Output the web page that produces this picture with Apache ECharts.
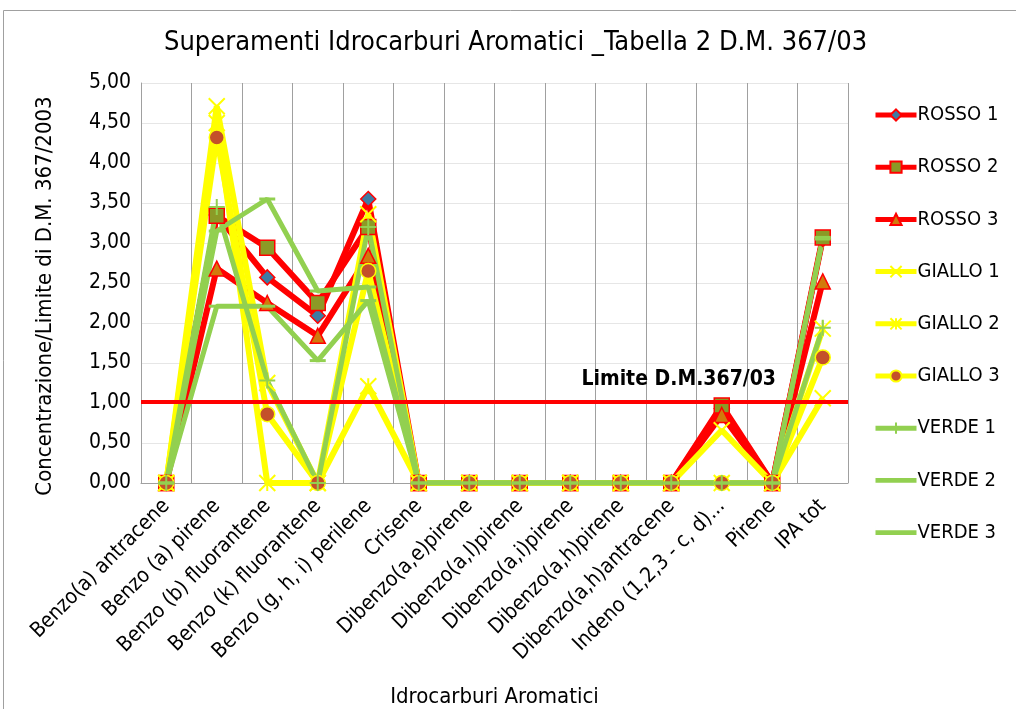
<!DOCTYPE html>
<html>
<head>
<meta charset="utf-8">
<script src="https://cdn.jsdelivr.net/npm/echarts@6/dist/echarts.min.js"></script>
<style>
  html, body { margin: 0; padding: 0; background: #fff; overflow: hidden; }
  #chart { width: 1016px; height: 709px; }
</style>
</head>
<body>
<div id="chart"></div>
<script>
// categorie (asse x)
var categorie = ['Benzo(a) antracene', 'Benzo (a) pirene', 'Benzo (b) fluorantene', 'Benzo (k) fluorantene',
  'Benzo (g, h, i) perilene', 'Crisene', 'Dibenzo(a,e)pirene', 'Dibenzo(a,l)pirene', 'Dibenzo(a,i)pirene',
  'Dibenzo(a,h)pirene', 'Dibenzo(a,h)antracene', 'Indeno (1,2,3 - c, d)...', 'Pirene', 'IPA tot'];

// valori
var rosso1  = [0, 3.35, 2.57, 2.09, 3.55, 0, 0, 0, 0, 0, 0, 0.93, 0, 3.05];
var rosso2  = [0, 3.34, 2.94, 2.25, 3.20, 0, 0, 0, 0, 0, 0, 0.97, 0, 3.07];
var rosso3  = [0, 2.68, 2.25, 1.84, 2.84, 0, 0, 0, 0, 0, 0, 0.85, 0, 2.52];
var giallo1 = [0, 4.71, 1.25, 0, 3.36, 0, 0, 0, 0, 0, 0, 0.66, 0, 1.06];
var giallo2 = [0, 4.50, 0, 0, 1.21, 0, 0, 0, 0, 0, 0, 0, 0, 1.93];
var giallo3 = [0, 4.32, 0.86, 0, 2.65, 0, 0, 0, 0, 0, 0, 0, 0, 1.57];
var verde1  = [0, 3.45, 1.28, 0, 3.20, 0, 0, 0, 0, 0, 0, 0, 0, 1.94];
var verde2  = [0, 3.15, 3.55, 2.40, 2.45, 0, 0, 0, 0, 0, 0, 0, 0, 3.05];
var verde3  = [0, 2.21, 2.21, 1.53, 2.28, 0, 0, 0, 0, 0, 0, 0, 0, 3.07];

var limite = 1.02;

var ROSSO = '#ff0000', GIALLO = '#ffff00', VERDE = '#92d050';
var FONT = 'DejaVu Sans Condensed';

var simboloX = 'path://M0,0L10,10M10,0L0,10';
var simboloAst = 'path://M0,0L10,10M10,0L0,10M5,0L5,10';
var simboloPiu = 'path://M0,5L10,5M5,0L5,10';
var simboloTrattino = 'path://M0,0h10v2h-10z';
// icona legenda per VERDE 2/3: solo la linea (rettangolo quasi invisibile per tenere l'altezza)
var iconaLinea = 'path://M0,4.5h44v5h-44z M0,0h0.01v14h-0.01z';

function serie(nome, dati, colore, larghezza, simbolo, size, item) {
  return {
    name: nome,
    type: 'line',
    data: dati,
    showAllSymbol: true,
    symbol: simbolo,
    symbolSize: size,
    lineStyle: { color: colore, width: larghezza },
    itemStyle: item,
    emphasis: { disabled: true }
  };
}

var chart = echarts.init(document.getElementById('chart'));
var option = {
  backgroundColor: '#fff',
  animation: false,
  textStyle: { fontFamily: FONT },
  title: {
    text: 'Superamenti Idrocarburi Aromatici _Tabella 2 D.M. 367/03',
    left: 159,
    top: 24,
    textStyle: { fontFamily: FONT, fontSize: 27, fontWeight: 'normal', color: '#000' }
  },
  graphic: [{
    type: 'rect',
    shape: { x: 3.5, y: 10.5, width: 1100, height: 800 },
    style: { fill: 'none', stroke: '#a0a0a0', lineWidth: 1 },
    silent: true
  }],
  legend: {
    orient: 'vertical',
    left: 868,
    top: 100,
    itemWidth: 41,
    itemHeight: 14,
    itemGap: 32.2,
    lineStyle: { width: 5 },
    data: ['ROSSO 1', 'ROSSO 2', 'ROSSO 3', 'GIALLO 1', 'GIALLO 2', 'GIALLO 3', 'VERDE 1',
      { name: 'VERDE 2', icon: iconaLinea }, { name: 'VERDE 3', icon: iconaLinea }],
    textStyle: { fontFamily: FONT, fontSize: 20, color: '#000', padding: [0, 0, 0, -4] }
  },
  grid: { left: 141, width: 707, top: 83, height: 400, outerBoundsMode: 'none' },
  xAxis: {
    type: 'category',
    data: categorie,
    boundaryGap: true,
    name: 'Idrocarburi Aromatici',
    nameLocation: 'middle',
    nameGap: 203,
    nameTextStyle: { fontFamily: FONT, fontSize: 22, color: '#000' },
    axisLine: { lineStyle: { color: '#a0a0a0', width: 1 } },
    axisTick: { show: false },
    splitLine: { show: true, lineStyle: { color: '#a0a0a0', width: 1 } },
    axisLabel: { interval: 0, rotate: 45, margin: 20, fontFamily: FONT, fontSize: 21, color: '#000' }
  },
  yAxis: {
    type: 'value',
    min: 0,
    max: 5,
    interval: 0.5,
    name: 'Concentrazione/Limite di D.M. 367/2003',
    nameLocation: 'middle',
    nameGap: 85,
    nameRotate: 90,
    nameTextStyle: { fontFamily: FONT, fontSize: 22, color: '#000', padding: [0, 26, 0, 0] },
    axisLine: { show: true, lineStyle: { color: '#a0a0a0', width: 1 } },
    axisTick: { show: false },
    splitLine: { lineStyle: { color: '#e6e6e6', width: 1 } },
    axisLabel: {
      margin: 10,
      fontFamily: FONT, fontSize: 21, color: '#000',
      formatter: function (v) { return v.toFixed(2).replace('.', ','); }
    }
  },
  series: [
    serie('ROSSO 1', rosso1, ROSSO, 6, 'diamond', 15, { color: '#3e7ba3', borderColor: ROSSO, borderWidth: 1.5 }),
    serie('ROSSO 2', rosso2, ROSSO, 6, 'rect', 15, { color: '#8c9a26', borderColor: ROSSO, borderWidth: 1.5 }),
    serie('ROSSO 3', rosso3, ROSSO, 6, 'triangle', 15, { color: '#d27a0c', borderColor: ROSSO, borderWidth: 1.5 }),
    serie('GIALLO 1', giallo1, GIALLO, 6, simboloX, 16, { color: GIALLO, borderColor: GIALLO, borderWidth: 2 }),
    serie('GIALLO 2', giallo2, GIALLO, 6, simboloAst, 16, { color: GIALLO, borderColor: GIALLO, borderWidth: 2 }),
    serie('GIALLO 3', giallo3, GIALLO, 6, 'circle', 15, { color: '#c4502a', borderColor: GIALLO, borderWidth: 1.5 }),
    serie('VERDE 1', verde1, VERDE, 5, simboloPiu, 16, { color: VERDE, borderColor: VERDE, borderWidth: 2 }),
    serie('VERDE 2', verde2, VERDE, 5, simboloTrattino, [16, 3], { color: VERDE, borderColor: VERDE, borderWidth: 0 }),
    serie('VERDE 3', verde3, VERDE, 5, simboloTrattino, [16, 3], { color: VERDE, borderColor: VERDE, borderWidth: 0 }),
    {
      name: 'Limite',
      type: 'line',
      data: [],
      z: 10,
      markLine: {
        silent: true,
        symbol: 'none',
        lineStyle: { color: ROSSO, width: 4, type: 'solid' },
        label: {
          position: 'insideEndTop',
          distance: [72, 11],
          formatter: 'Limite D.M.367/03',
          fontFamily: FONT, fontSize: 21, fontWeight: 'bold', color: '#000'
        },
        data: [{ yAxis: limite }]
      }
    }
  ]
};
chart.setOption(option);
</script>
</body>
</html>
